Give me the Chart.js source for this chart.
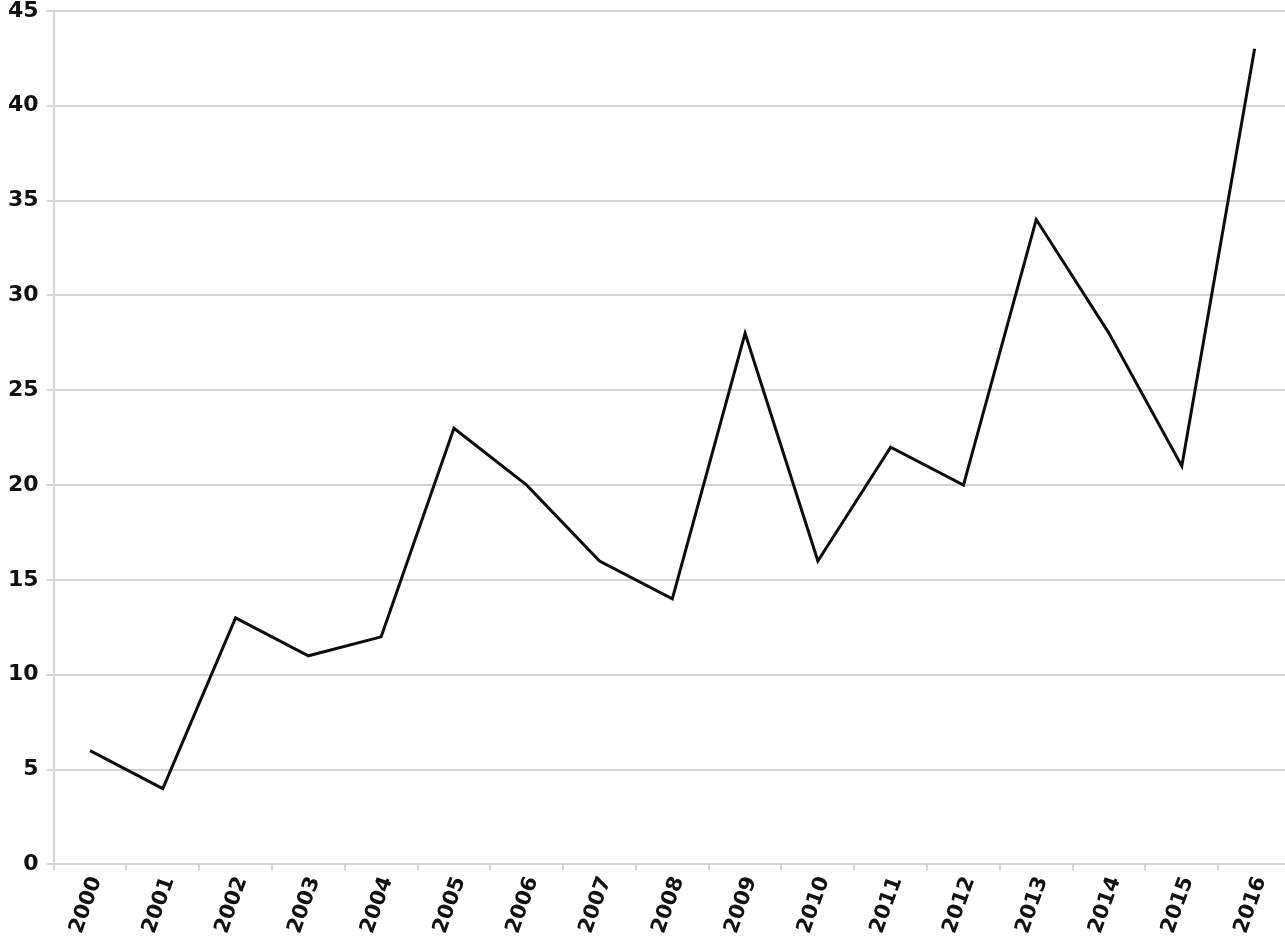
<!DOCTYPE html>
<html>
<head>
	<meta charset="utf-8">
	<title>yearly count</title>
  <script src="https://cdn.jsdelivr.net/npm/chart.js@4/dist/chart.umd.min.js"></script>
  <style>
    html, body { margin: 0; padding: 0; background: #fff; overflow: hidden; }
    #wrap { width: 1291px; height: 947px; margin-top: -7px; }
  </style>
</head>
<body>
<div id="wrap"><canvas id="myChart"></canvas></div>
<script>
var years = ['2000','2001','2002','2003','2004','2005','2006','2007','2008','2009','2010','2011','2012','2013','2014','2015','2016'];
var counts = [6, 4, 13, 11, 12, 23, 20, 16, 14, 28, 16, 22, 20, 34, 28, 21, 43];
var yTicks = [0, 5, 10, 15, 20, 25, 30, 35, 40, 45];

var gridGray = '#d4d4d4';

var ctx = document.getElementById('myChart').getContext('2d');
var chart = new Chart(ctx, {
  type: 'line',
  data: {
    labels: years,
    datasets: [{
      data: counts,
      borderColor: '#0d0d0d',
      borderWidth: 3,
      pointRadius: 0,
      tension: 0,
      fill: false
    }]
  },
  options: {
    responsive: true,
    maintainAspectRatio: false,
    animation: false,
    layout: { padding: { top: 0, right: 0, left: 0, bottom: 0 } },
    plugins: {
      legend: { display: false },
      tooltip: { enabled: false }
    },
    scales: {
      x: {
        offset: true,
        grid: { display: true, drawOnChartArea: false, color: gridGray, lineWidth: 2, tickLength: 6, offset: true },
        border: { color: gridGray, width: 2 },
        ticks: {
          color: '#111',
          font: { family: 'DejaVu Sans', size: 21, weight: 'bold' },
          minRotation: 70,
          maxRotation: 70,
          labelOffset: 6,
          padding: 3
        }
      },
      y: {
        min: 0,
        max: 45,
        afterBuildTicks: function(axis) {
          axis.ticks = yTicks.map(function(v) { return { value: v }; });
        },
        grid: { color: gridGray, lineWidth: 2, tickLength: 7 },
        border: { color: gridGray, width: 2 },
        ticks: {
          color: '#111',
          font: { family: 'DejaVu Sans', size: 22, weight: 'bold', lineHeight: 0.9 },
          padding: 8
        }
      }
    }
  }
});
</script>
</body>
</html>
